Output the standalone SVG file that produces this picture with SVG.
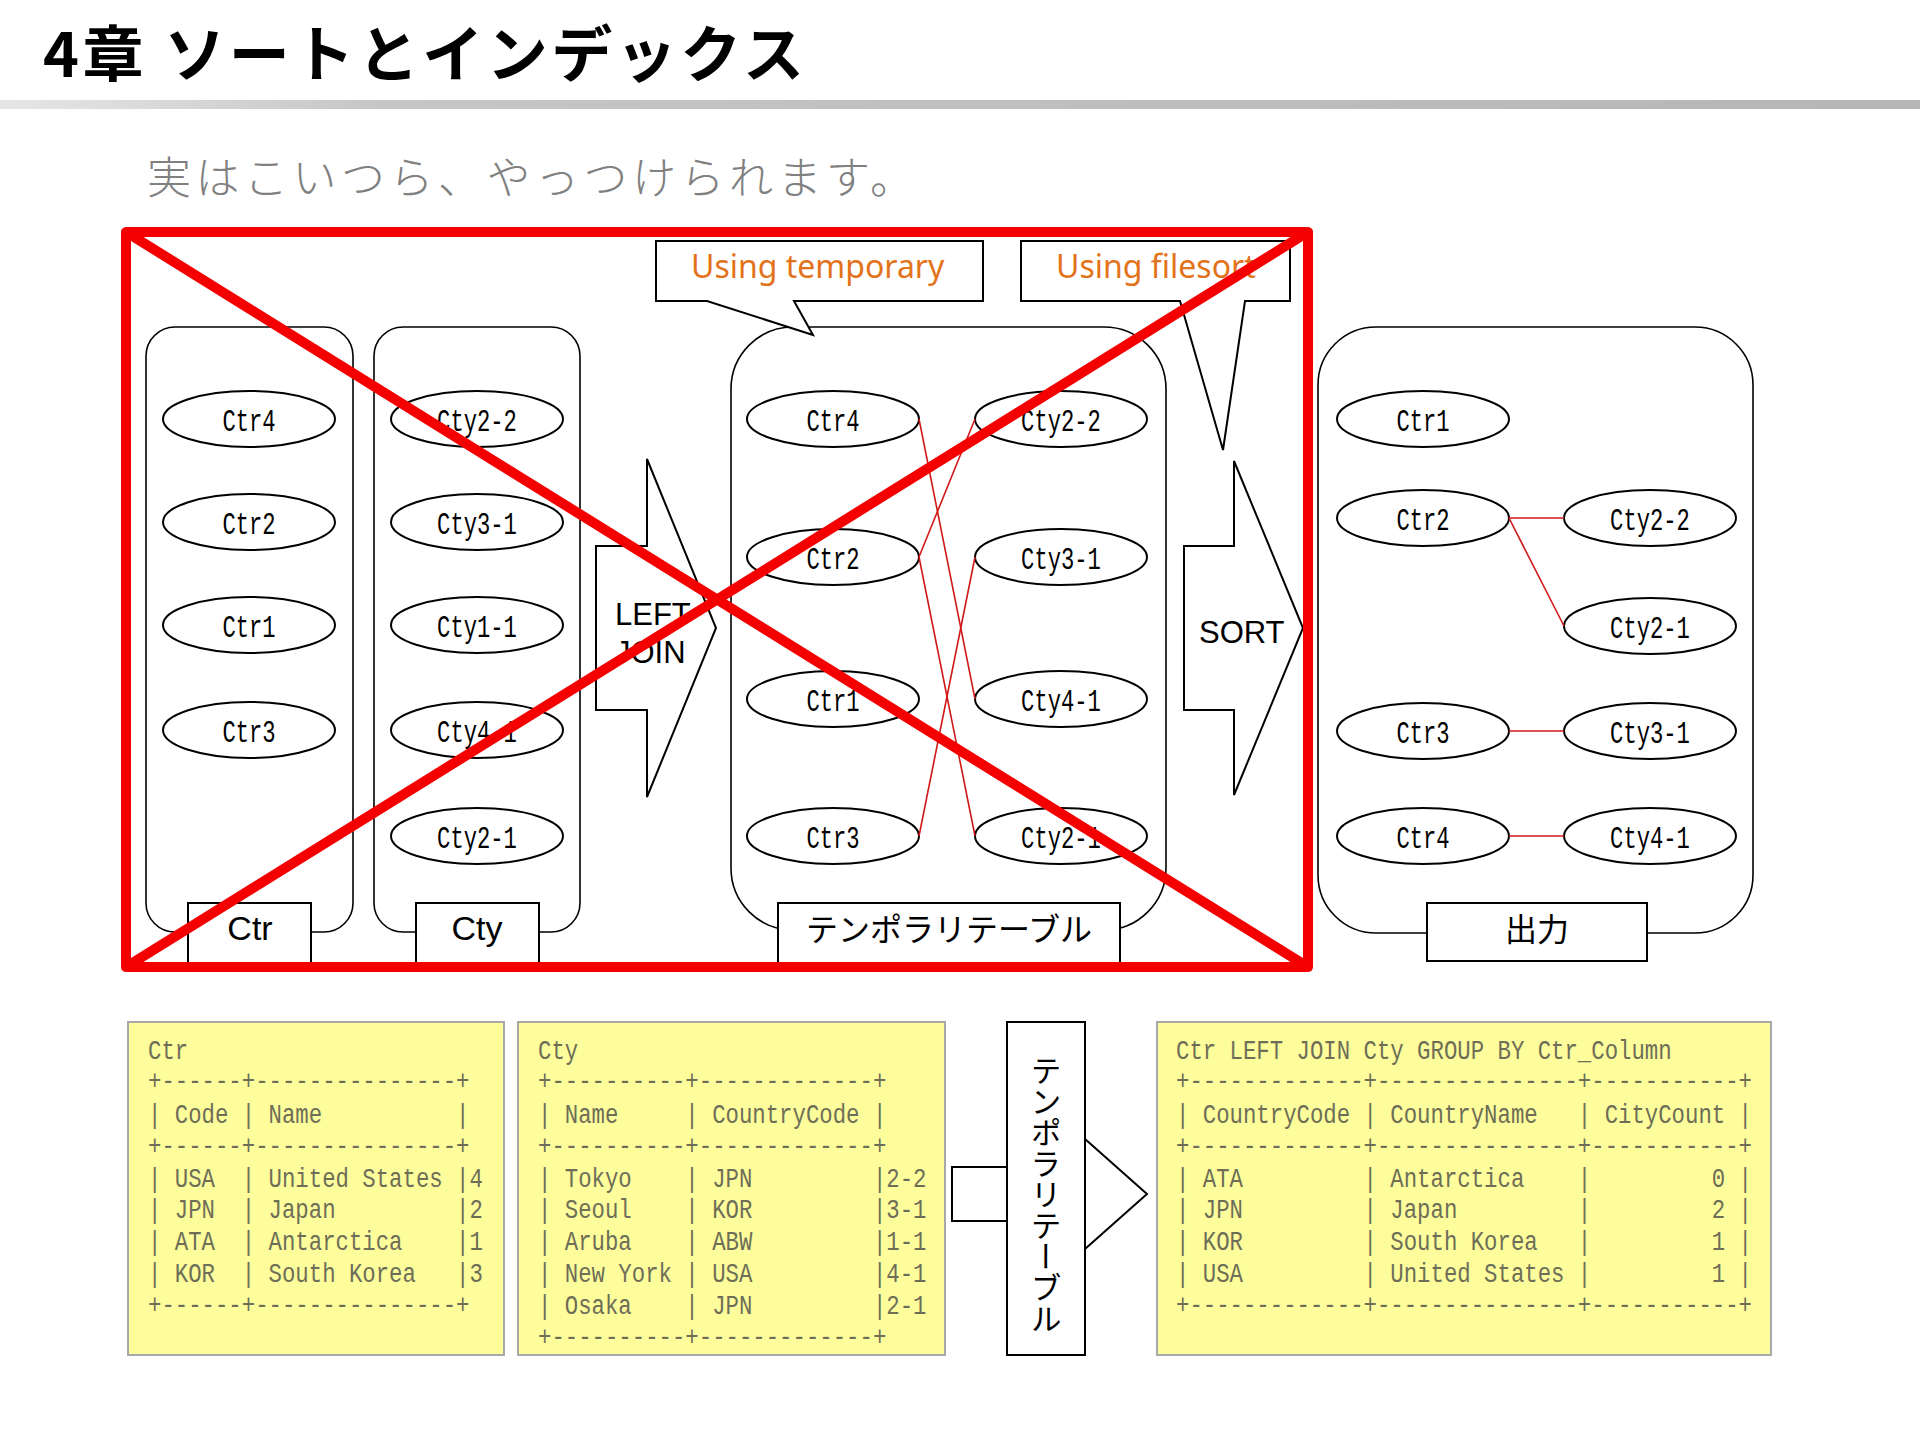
<svg xmlns="http://www.w3.org/2000/svg" width="1920" height="1440" viewBox="0 0 1920 1440">
<defs>
<linearGradient id="bar" x1="0" x2="1" y1="0" y2="0">
<stop offset="0" stop-color="#e6e6e6"/>
<stop offset="0.2" stop-color="#c6c6c6"/>
<stop offset="1" stop-color="#b6b6b6"/>
</linearGradient>
<style>
.cont{fill:#fff;stroke:#000;stroke-width:1.6}
.lbl{fill:#fff;stroke:#000;stroke-width:2}
.el{fill:#fff;stroke:#000;stroke-width:2}
.elt{font-family:"Liberation Mono",monospace;font-size:31px;fill:#000;text-anchor:middle}
.lt{font-family:"Liberation Sans","Noto Sans CJK JP",sans-serif;font-size:34px;fill:#000;text-anchor:middle}
.jt{font-family:"Noto Sans CJK JP",sans-serif;font-size:32px;fill:#000;text-anchor:middle}
.rl{stroke:#d01818;stroke-width:1.6;fill:none}
.co{fill:#fff;stroke:#000;stroke-width:2}
.cot{font-family:"Noto Sans","Liberation Sans",sans-serif;font-size:32px;fill:#e3731a}
.arr{fill:#fff;stroke:#000;stroke-width:2}
.at{font-family:"Liberation Sans",sans-serif;font-size:31px;fill:#000}
.x{fill:none;stroke:#f50000;stroke-width:10;stroke-linejoin:round;stroke-linecap:round}
.tb{fill:#fdfd9b;stroke:#a8a8a8;stroke-width:2}
.mono{font-family:"Liberation Mono",monospace;font-size:28px;fill:#6e6e58}
.mono text{white-space:pre}
</style>
</defs>
<rect x="0" y="0" width="1920" height="1440" fill="#fff"/>

<g id="header">
<text x="43" y="77" font-family="'Noto Sans CJK JP',sans-serif" font-size="61" font-weight="700" letter-spacing="3.5" fill="#000">4章 ソートとインデックス</text>
<rect x="0" y="100" width="1920" height="9" fill="url(#bar)"/>
<text x="147" y="194" font-family="'Noto Sans CJK JP',sans-serif" font-size="44" font-weight="300" letter-spacing="4.5" fill="#808080">実はこいつら、やっつけられます。</text>
</g>

<g id="ctr-table">
<rect class="cont" x="146" y="327" width="207" height="605" rx="29"/>
<rect class="lbl" x="188" y="903" width="123" height="62"/>
<text class="lt" x="250" y="940">Ctr</text>
</g>
<g id="cty-table">
<rect class="cont" x="374" y="327" width="206" height="605" rx="29"/>
<rect class="lbl" x="416" y="903" width="123" height="62"/>
<text class="lt" x="477" y="940">Cty</text>
</g>
<g id="temp-table">
<rect class="cont" x="731" y="327" width="435" height="603" rx="62"/>
<rect class="lbl" x="778" y="903" width="342" height="62"/>
<text class="jt" x="949" y="941">テンポラリテーブル</text>
</g>
<g id="output">
<rect class="cont" x="1318" y="327" width="435" height="606" rx="58"/>
<rect class="lbl" x="1427" y="903" width="220" height="58"/>
<text class="jt" x="1537" y="941">出力</text>
</g>

<g id="ctr-nodes">
<g id="ctr4"><ellipse class="el" cx="249" cy="419" rx="86" ry="28"/><text class="elt" transform="translate(249,431) scale(0.715,1)">Ctr4</text></g>
<g id="ctr2"><ellipse class="el" cx="249" cy="522" rx="86" ry="28"/><text class="elt" transform="translate(249,534) scale(0.715,1)">Ctr2</text></g>
<g id="ctr1"><ellipse class="el" cx="249" cy="625" rx="86" ry="28"/><text class="elt" transform="translate(249,637) scale(0.715,1)">Ctr1</text></g>
<g id="ctr3"><ellipse class="el" cx="249" cy="730" rx="86" ry="28"/><text class="elt" transform="translate(249,742) scale(0.715,1)">Ctr3</text></g>
</g>
<g id="cty-nodes">
<g id="cty2-2"><ellipse class="el" cx="477" cy="419" rx="86" ry="28"/><text class="elt" transform="translate(477,431) scale(0.715,1)">Cty2-2</text></g>
<g id="cty3-1"><ellipse class="el" cx="477" cy="522" rx="86" ry="28"/><text class="elt" transform="translate(477,534) scale(0.715,1)">Cty3-1</text></g>
<g id="cty1-1"><ellipse class="el" cx="477" cy="625" rx="86" ry="28"/><text class="elt" transform="translate(477,637) scale(0.715,1)">Cty1-1</text></g>
<g id="cty4-1"><ellipse class="el" cx="477" cy="730" rx="86" ry="28"/><text class="elt" transform="translate(477,742) scale(0.715,1)">Cty4-1</text></g>
<g id="cty2-1"><ellipse class="el" cx="477" cy="836" rx="86" ry="28"/><text class="elt" transform="translate(477,848) scale(0.715,1)">Cty2-1</text></g>
</g>
<g id="temp-nodes">
<g id="t-ctr4"><ellipse class="el" cx="833" cy="419" rx="86" ry="28"/><text class="elt" transform="translate(833,431) scale(0.715,1)">Ctr4</text></g>
<g id="t-ctr2"><ellipse class="el" cx="833" cy="557" rx="86" ry="28"/><text class="elt" transform="translate(833,569) scale(0.715,1)">Ctr2</text></g>
<g id="t-ctr1"><ellipse class="el" cx="833" cy="699" rx="86" ry="28"/><text class="elt" transform="translate(833,711) scale(0.715,1)">Ctr1</text></g>
<g id="t-ctr3"><ellipse class="el" cx="833" cy="836" rx="86" ry="28"/><text class="elt" transform="translate(833,848) scale(0.715,1)">Ctr3</text></g>
<g id="t-cty2-2"><ellipse class="el" cx="1061" cy="419" rx="86" ry="28"/><text class="elt" transform="translate(1061,431) scale(0.715,1)">Cty2-2</text></g>
<g id="t-cty3-1"><ellipse class="el" cx="1061" cy="557" rx="86" ry="28"/><text class="elt" transform="translate(1061,569) scale(0.715,1)">Cty3-1</text></g>
<g id="t-cty4-1"><ellipse class="el" cx="1061" cy="699" rx="86" ry="28"/><text class="elt" transform="translate(1061,711) scale(0.715,1)">Cty4-1</text></g>
<g id="t-cty2-1"><ellipse class="el" cx="1061" cy="836" rx="86" ry="28"/><text class="elt" transform="translate(1061,848) scale(0.715,1)">Cty2-1</text></g>
</g>
<g id="out-nodes">
<g id="o-ctr1"><ellipse class="el" cx="1423" cy="419" rx="86" ry="28"/><text class="elt" transform="translate(1423,431) scale(0.715,1)">Ctr1</text></g>
<g id="o-ctr2"><ellipse class="el" cx="1423" cy="518" rx="86" ry="28"/><text class="elt" transform="translate(1423,530) scale(0.715,1)">Ctr2</text></g>
<g id="o-ctr3"><ellipse class="el" cx="1423" cy="731" rx="86" ry="28"/><text class="elt" transform="translate(1423,743) scale(0.715,1)">Ctr3</text></g>
<g id="o-ctr4"><ellipse class="el" cx="1423" cy="836" rx="86" ry="28"/><text class="elt" transform="translate(1423,848) scale(0.715,1)">Ctr4</text></g>
<g id="o-cty2-2"><ellipse class="el" cx="1650" cy="518" rx="86" ry="28"/><text class="elt" transform="translate(1650,530) scale(0.715,1)">Cty2-2</text></g>
<g id="o-cty2-1"><ellipse class="el" cx="1650" cy="626" rx="86" ry="28"/><text class="elt" transform="translate(1650,638) scale(0.715,1)">Cty2-1</text></g>
<g id="o-cty3-1"><ellipse class="el" cx="1650" cy="731" rx="86" ry="28"/><text class="elt" transform="translate(1650,743) scale(0.715,1)">Cty3-1</text></g>
<g id="o-cty4-1"><ellipse class="el" cx="1650" cy="836" rx="86" ry="28"/><text class="elt" transform="translate(1650,848) scale(0.715,1)">Cty4-1</text></g>
</g>

<g id="connectors">
<line class="rl" x1="919" y1="419" x2="975" y2="699"/>
<line class="rl" x1="919" y1="557" x2="975" y2="419"/>
<line class="rl" x1="919" y1="557" x2="975" y2="836"/>
<line class="rl" x1="919" y1="836" x2="975" y2="557"/>
<line class="rl" x1="1509" y1="518" x2="1564" y2="518"/>
<line class="rl" x1="1509" y1="518" x2="1564" y2="626"/>
<line class="rl" x1="1509" y1="731" x2="1564" y2="731"/>
<line class="rl" x1="1509" y1="836" x2="1564" y2="836"/>
</g>

<g id="callout-temporary">
<path class="co" d="M656,241 H983 V301 H794 L813,335 L707,301 H656 Z"/>
<text class="cot" x="691" y="278">Using temporary</text>
</g>
<g id="callout-filesort">
<path class="co" d="M1021,241 H1290 V301 H1245 L1223,450 L1180,301 H1021 Z"/>
<text class="cot" x="1056" y="278">Using filesort</text>
</g>

<g id="left-join-arrow">
<polygon class="arr" points="596,546 647,546 647,459 716,628 647,797 647,710 596,710"/>
<text class="at" x="615" y="625">LEFT</text>
<text class="at" x="615" y="663">JOIN</text>
</g>
<g id="sort-arrow">
<polygon class="arr" points="1184,546 1234,546 1234,461 1303,628 1234,795 1234,710 1184,710"/>
<text class="at" x="1199" y="643">SORT</text>
</g>

<g id="cross-out">
<rect class="x" x="126" y="232" width="1182" height="735" rx="3"/>
<line class="x" x1="126" y1="232" x2="1308" y2="967"/>
<line class="x" x1="1308" y1="232" x2="126" y2="967"/>
</g>

<g id="sql-ctr">
<rect class="tb" x="128" y="1022" width="376" height="333"/>
<g class="mono" transform="translate(148,0) scale(0.7976,1)">
<text xml:space="preserve" x="0" y="1059">Ctr</text>
<text xml:space="preserve" x="0" y="1089">+------+---------------+</text>
<text xml:space="preserve" x="0" y="1123">| Code | Name          |</text>
<text xml:space="preserve" x="0" y="1154">+------+---------------+</text>
<text xml:space="preserve" x="0" y="1187">| USA  | United States |4</text>
<text xml:space="preserve" x="0" y="1218">| JPN  | Japan         |2</text>
<text xml:space="preserve" x="0" y="1250">| ATA  | Antarctica    |1</text>
<text xml:space="preserve" x="0" y="1282">| KOR  | South Korea   |3</text>
<text xml:space="preserve" x="0" y="1313">+------+---------------+</text>
</g>
</g>
<g id="sql-cty">
<rect class="tb" x="518" y="1022" width="427" height="333"/>
<g class="mono" transform="translate(538,0) scale(0.7976,1)">
<text xml:space="preserve" x="0" y="1059">Cty</text>
<text xml:space="preserve" x="0" y="1089">+----------+-------------+</text>
<text xml:space="preserve" x="0" y="1123">| Name     | CountryCode |</text>
<text xml:space="preserve" x="0" y="1154">+----------+-------------+</text>
<text xml:space="preserve" x="0" y="1187">| Tokyo    | JPN         |2-2</text>
<text xml:space="preserve" x="0" y="1218">| Seoul    | KOR         |3-1</text>
<text xml:space="preserve" x="0" y="1250">| Aruba    | ABW         |1-1</text>
<text xml:space="preserve" x="0" y="1282">| New York | USA         |4-1</text>
<text xml:space="preserve" x="0" y="1314">| Osaka    | JPN         |2-1</text>
<text xml:space="preserve" x="0" y="1345">+----------+-------------+</text>
</g>
</g>
<g id="temp-arrow">
<polygon class="arr" points="952,1167 1085,1167 1085,1139 1147,1194 1085,1249 1085,1221 952,1221"/>
<rect class="lbl" x="1007" y="1022" width="78" height="333"/>
<text x="1046" y="1055" font-family="'Noto Sans CJK JP',sans-serif" font-size="31" fill="#000" style="writing-mode:vertical-rl">テンポラリテーブル</text>
</g>
<g id="sql-result">
<rect class="tb" x="1157" y="1022" width="614" height="333"/>
<g class="mono" transform="translate(1176,0) scale(0.7976,1)">
<text xml:space="preserve" x="0" y="1059">Ctr LEFT JOIN Cty GROUP BY Ctr_Column</text>
<text xml:space="preserve" x="0" y="1089">+-------------+---------------+-----------+</text>
<text xml:space="preserve" x="0" y="1123">| CountryCode | CountryName   | CityCount |</text>
<text xml:space="preserve" x="0" y="1154">+-------------+---------------+-----------+</text>
<text xml:space="preserve" x="0" y="1187">| ATA         | Antarctica    |         0 |</text>
<text xml:space="preserve" x="0" y="1218">| JPN         | Japan         |         2 |</text>
<text xml:space="preserve" x="0" y="1250">| KOR         | South Korea   |         1 |</text>
<text xml:space="preserve" x="0" y="1282">| USA         | United States |         1 |</text>
<text xml:space="preserve" x="0" y="1313">+-------------+---------------+-----------+</text>
</g>
</g>
</svg>
